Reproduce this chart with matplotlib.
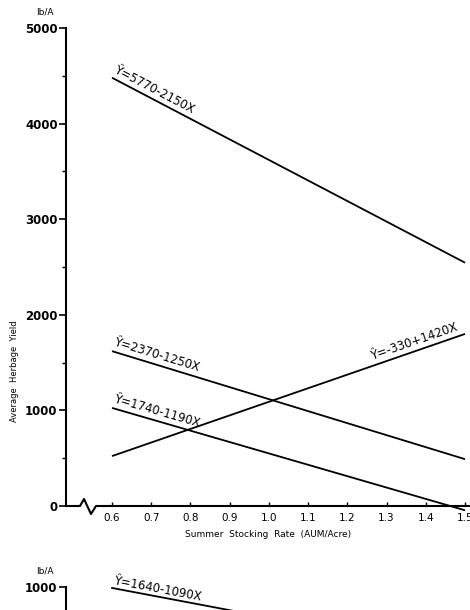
import numpy as np
import matplotlib
matplotlib.use("Agg")
import matplotlib.pyplot as plt
from matplotlib.lines import Line2D

# ---- data ----
x_ends = [0.6, 1.5]
eq_labels = ["Ŷ=5770-2150X", "Ŷ=2370-1250X", "Ŷ=1740-1190X", "Ŷ=-330+1420X"]
y_ends = [[4480, 2545], [1620, 490], [1026, -45], [522, 1800]]
x_ticks = [0.6, 0.7, 0.8, 0.9, 1.0, 1.1, 1.2, 1.3, 1.4, 1.5]
x_ticklabels = ["0.6", "0.7", "0.8", "0.9", "1.0", "1.1", "1.2", "1.3", "1.4", "1.5"]
y_ticks = [0, 1000, 2000, 3000, 4000, 5000]
y_ticklabels = ["0", "1000", "2000", "3000", "4000", "5000"]
# second (partially visible) chart
eq2_label = "Ŷ=1640-1090X"
y2_ends = [986, 5]
y2_ticks = [1000]
y2_ticklabels = ["1000"]

W, H = 470, 610
fig = plt.figure(figsize=(W / 100, H / 100), dpi=100)


def fx(px):
    return px / W


def fy(py):
    return 1 - py / H


# main axes: left spine x=66px, y=0 at 506px, y=5000 at 28px
ax = fig.add_axes([fx(66), fy(506), fx(404), 478 / H])
ax.set_xlim(0.4827, 1.5127)
ax.set_ylim(0, 5000)
for s in ["top", "right", "bottom"]:
    ax.spines[s].set_visible(False)
ax.spines["left"].set_linewidth(1.5)
ax.set_yticks(y_ticks)
ax.set_yticklabels(y_ticklabels, fontsize=8.5, fontweight="bold")
ax.set_yticks(np.arange(500, 5000, 1000), minor=True)
ax.tick_params(axis="y", which="major", direction="out", length=5, width=1.2, pad=1)
ax.tick_params(axis="y", which="minor", direction="out", length=3, width=1.0)
ax.set_xticks(x_ticks)
ax.set_xticklabels(x_ticklabels, fontsize=7.5)
ax.tick_params(axis="x", direction="in", length=3, width=1.0, pad=5)

for lab, ys in zip(eq_labels, y_ends):
    ax.plot(x_ends, ys, color="black", lw=1.3, solid_capstyle="butt", clip_on=False)

fig.canvas.draw()


def screen_angle(a, xs, ys):
    p1 = a.transData.transform((xs[0], ys[0]))
    p2 = a.transData.transform((xs[1], ys[1]))
    return np.degrees(np.arctan2(p2[1] - p1[1], p2[0] - p1[0]))


def y_at(xs, ys, x):
    return ys[0] + (ys[1] - ys[0]) * (x - xs[0]) / (xs[1] - xs[0])


label_pos = [(0.6, "left"), (0.6, "left"), (0.6, "left"), (1.485, "right")]
for lab, ys, (xp, ha) in zip(eq_labels, y_ends, label_pos):
    ang = screen_angle(ax, x_ends, ys)
    ax.text(xp, y_at(x_ends, ys, xp) + 30, lab, rotation=ang, rotation_mode="anchor",
            ha=ha, va="bottom", fontsize=8.5)

# bottom axis line with break symbol (figure pixel coords)
bx = [66, 80, 84, 91, 96, 470]
by = [506, 506, 499, 514, 506, 506]
fig.add_artist(Line2D([fx(v) for v in bx], [fy(v) for v in by], color="black", lw=1.5,
                      transform=fig.transFigure))

ax.set_xlabel("Summer  Stocking  Rate  (AUM/Acre)", fontsize=6.5, labelpad=5)
fig.text(fx(15), fy(371), "Average  Herbage  Yield", rotation=90, fontsize=6,
         ha="center", va="center")
fig.text(fx(45), fy(12), "lb/A", fontsize=6.5, ha="center", va="center")

# second chart (only top visible)
ax2 = fig.add_axes([fx(66), fy(655), fx(404), 68 / H])
ax2.set_xlim(0.4827, 1.5127)
ax2.set_ylim(0, 1000)
for s in ["top", "right", "bottom"]:
    ax2.spines[s].set_visible(False)
ax2.spines["left"].set_linewidth(1.5)
ax2.set_yticks(y2_ticks)
ax2.set_yticklabels(y2_ticklabels, fontsize=8.5, fontweight="bold")
ax2.tick_params(axis="y", direction="out", length=5, width=1.2, pad=1)
ax2.set_xticks([])
ax2.plot(x_ends, y2_ends, color="black", lw=1.3)
fig.canvas.draw()
ang2 = screen_angle(ax2, x_ends, y2_ends)
ax2.text(0.6, y_at(x_ends, y2_ends, 0.6) + 10, eq2_label, rotation=ang2,
         rotation_mode="anchor", ha="left", va="bottom", fontsize=8.5)
fig.text(fx(45), fy(571), "lb/A", fontsize=6.5, ha="center", va="center")

fig.savefig("out.png", dpi=100)
